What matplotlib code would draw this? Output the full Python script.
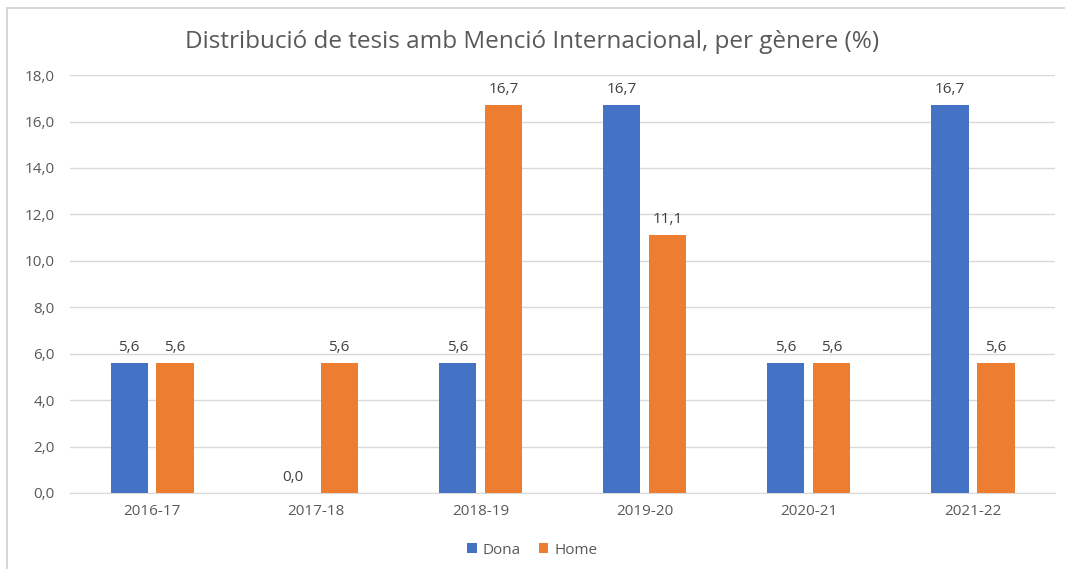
"""
Distribució de tesis amb Menció Internacional, per gènere (%)
"""
import matplotlib.pyplot as plt
import numpy as np
from matplotlib.lines import Line2D

cursos = ['2016-17', '2017-18', '2018-19', '2019-20', '2020-21', '2021-22']
dona = [5.6, 0.0, 5.6, 16.7, 5.6, 16.7]
home = [5.6, 5.6, 16.7, 11.1, 5.6, 5.6]

BLUE = '#4472C4'
ORANGE = '#ED7D31'
GRAY = '#595959'

plt.rcParams['font.family'] = ['Open Sans', 'DejaVu Sans']

fig = plt.figure(figsize=(10.65, 5.69), dpi=100)
ax = fig.add_axes([0.0657, 0.1336, 0.925, 0.7344])

x = np.arange(len(cursos))
w = 0.226
off = 0.14
b1 = ax.bar(x - off, dona, w, color=BLUE, label='Dona', zorder=3)
b2 = ax.bar(x + off, home, w, color=ORANGE, label='Home', zorder=3)

def fmt(v):
    return f'{v:.1f}'.replace('.', ',')

for bars, vals in ((b1, dona), (b2, home)):
    for rect, v in zip(bars, vals):
        ax.annotate(fmt(v), (rect.get_x() + rect.get_width() / 2, v),
                    xytext=(0, 6), textcoords='offset points',
                    ha='center', va='bottom', fontsize=11, color='#404040')

ax.set_xlim(-0.5, len(cursos) - 0.5)
ax.set_ylim(0, 18)
ax.set_yticks(np.arange(0, 18.1, 2))
ax.set_yticklabels([fmt(v) for v in np.arange(0, 18.1, 2)])
ax.set_xticks(x)
ax.set_xticklabels(cursos)
ax.tick_params(axis='both', length=0, labelsize=11, labelcolor=GRAY, pad=8)
ax.tick_params(axis='y', pad=11)
ax.grid(axis='y', color='#D9D9D9', linewidth=1, zorder=0)
for s in ('top', 'right', 'left'):
    ax.spines[s].set_visible(False)
ax.spines['bottom'].set_color('#D9D9D9')

fig.text(0.5, 0.926, 'Distribució de tesis amb Menció Internacional, per gènere (%)',
         ha='center', va='center', fontsize=17.5, color=GRAY)

fig.legend(loc='center', bbox_to_anchor=(0.5, 0.033), ncol=2, frameon=False,
           fontsize=11, labelcolor=GRAY, handlelength=0.6, handleheight=0.6,
           handletextpad=0.4, columnspacing=1.2)

# marc de la captura
fig.add_artist(Line2D([0.0066, 0.0066], [0, 0.986], color='#D0D0D0', lw=1.2))
fig.add_artist(Line2D([0.0066, 1.0], [0.986, 0.986], color='#D0D0D0', lw=1.2))

plt.savefig('out.png', dpi=100)
